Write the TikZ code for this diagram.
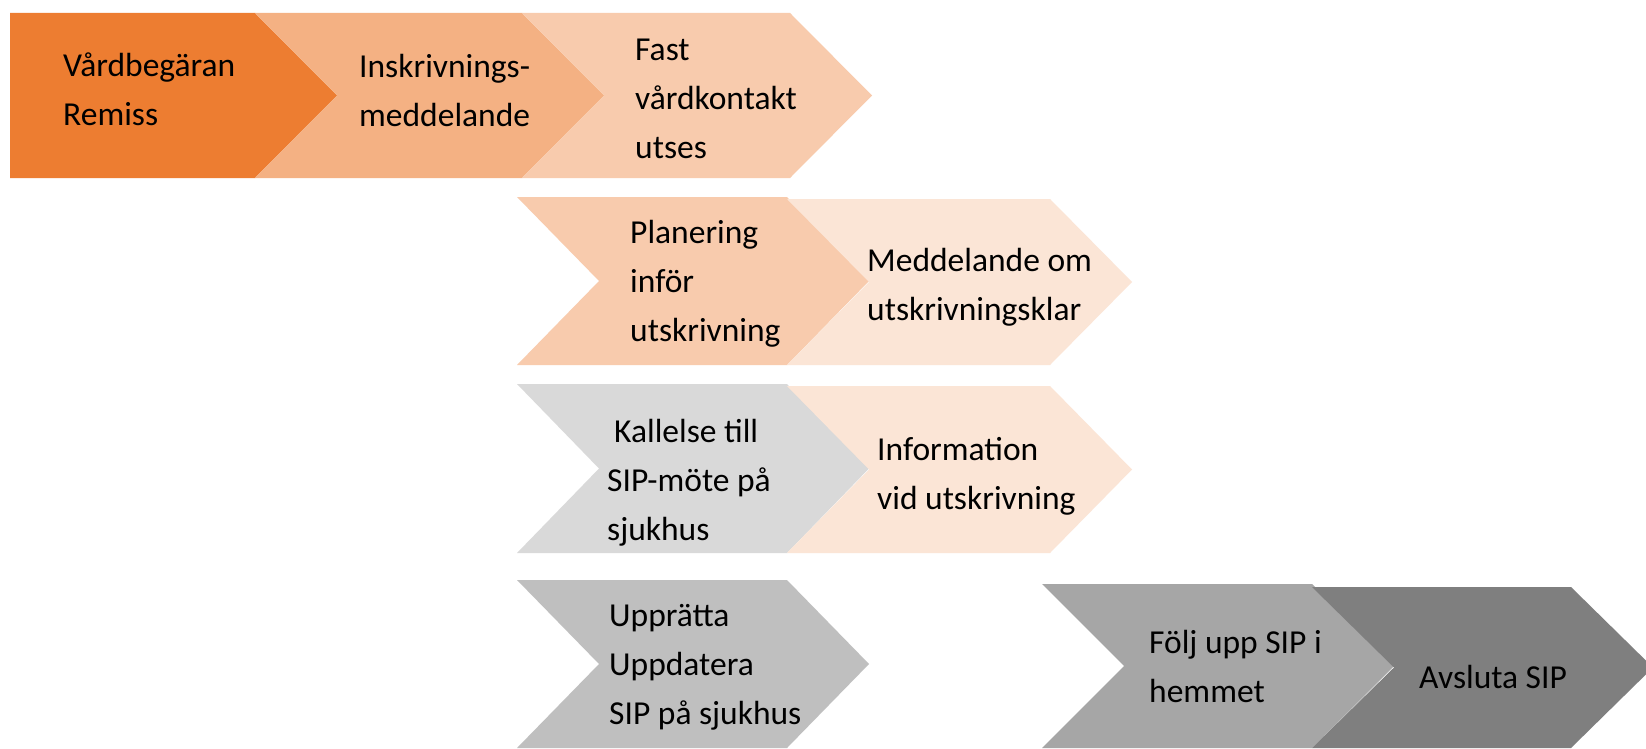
\documentclass[tikz,border=0pt]{standalone}
\usepackage{fontspec}
\setmainfont{Carlito}
\usetikzlibrary{positioning}

\definecolor{orange1}{HTML}{ED7D31}
\definecolor{orange2}{HTML}{F4B183}
\definecolor{orange3}{HTML}{F8CBAD}
\definecolor{orange4}{HTML}{FBE5D6}
\definecolor{grey1}{HTML}{D9D9D9}
\definecolor{grey2}{HTML}{BFBFBF}
\definecolor{grey3}{HTML}{A6A6A6}
\definecolor{grey4}{HTML}{7F7F7F}

% colour, left x, top y, top width, height, notch (0 or 1)
\newcommand\flowstep[6]{%
 \fill[#1] (#2,#3) -- ++(#4,0) -- ++(82,#5/2) -- ++(-82,#5/2) -- ++(-#4,0) -- ++(#6*82,-#5/2) -- cycle;
}

\begin{document}
\begin{tikzpicture}[x=1pt, y=-1pt,
 txt/.style={anchor=west, align=left, inner sep=0, text=black, font=\fontsize{33.5}{49}\selectfont}]
\useasboundingbox (0,0) rectangle (1646,749);
\fill[white] (0,0) rectangle (1646,749);

% row 1
\flowstep{orange1}{10}{13}{245}{165}{0}
\flowstep{orange2}{255}{13}{267}{165}{1}
\flowstep{orange3}{522}{13}{268}{165}{1}
% row 2
\flowstep{orange3}{517}{197}{270}{168}{1}
\flowstep{orange4}{787}{199}{263}{166}{1}
% row 3
\flowstep{grey1}{517}{384}{270}{169}{1}
\flowstep{orange4}{787}{386}{263}{167}{1}
% row 4
\flowstep{grey2}{517}{580}{270}{168}{1}
\flowstep{grey3}{1042}{584}{270}{164}{1}
\flowstep{grey4}{1312}{587}{259}{161}{1}

\node[txt] (remiss) at (63,89) {Vårdbegäran\\Remiss};
\node[txt] (inskr) at (359,90) {Inskrivnings-\\meddelande};
\node[txt] (fast) at (635,99) {Fast\\vårdkontakt\\utses};
\node[txt] (plan) at (630,284) {Planering\\inför\\utskrivning};
\node[txt] (klar) at (867,287) {Meddelande om\\utskrivningsklar};
\node[txt] (kallelse) at (607,483) {\hspace{7pt}Kallelse till\\SIP-möte på\\sjukhus};
\node[txt] (info) at (877,476) {Information\\vid utskrivning};
\node[txt] (sip) at (609,667) {Upprätta\\Uppdatera\\SIP på sjukhus};
\node[txt] (folj) at (1149,666) {Följ upp SIP i\\hemmet};
\node[txt] (avsluta) at (1419,677) {Avsluta SIP};
\end{tikzpicture}
\end{document}
